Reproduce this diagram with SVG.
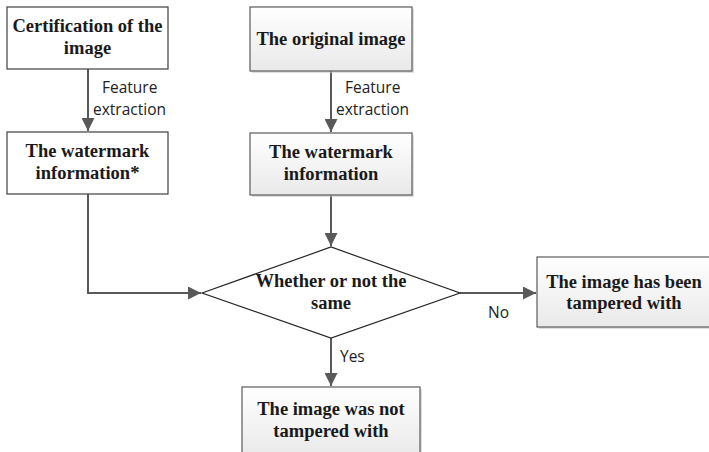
<svg xmlns="http://www.w3.org/2000/svg" width="709" height="452" viewBox="0 0 709 452">
<style>
.box{fill:#ffffff;stroke:#3f3f3f;stroke-width:1.2}
.gbox{fill:url(#g);stroke:#5a5a5a;stroke-width:1.2}
.shadow{fill:#c8c8c8;opacity:0.6}
.t{font-family:"Liberation Serif",serif;font-weight:bold;font-size:18.5px;fill:#1a1a1a;text-anchor:middle}
.lbl{font-family:"Open Sans","Liberation Sans",sans-serif;font-size:15.5px;fill:#222}
.con{fill:none;stroke:#595959;stroke-width:2}
.dia{fill:#ffffff;stroke:#262626;stroke-width:1.2}
</style>
<defs>
<linearGradient id="g" x1="0" y1="0" x2="0" y2="1">
<stop offset="0" stop-color="#ffffff"/>
<stop offset="1" stop-color="#e9e9e9"/>
</linearGradient>
<marker id="ah" viewBox="0 0 10 10" refX="10" refY="5" markerWidth="6.5" markerHeight="6.5" markerUnits="strokeWidth" orient="auto">
<path d="M0,0 L10,5 L0,10 z" fill="#595959"/>
</marker>
</defs>
<rect width="709" height="452" fill="#ffffff"/>
<g id="connectors">
<path class="con" d="M88,69 V131" marker-end="url(#ah)"/>
<path class="con" d="M331,71 V132" marker-end="url(#ah)"/>
<path class="con" d="M331,195 V246" marker-end="url(#ah)"/>
<path class="con" d="M88,194 V293 H201" marker-end="url(#ah)"/>
<path class="con" d="M460,293 H536" marker-end="url(#ah)"/>
<path class="con" d="M331,338 V386" marker-end="url(#ah)"/>
<text class="lbl" x="102" y="93">Feature</text>
<text class="lbl" x="93" y="115">extraction</text>
<text class="lbl" x="345" y="93">Feature</text>
<text class="lbl" x="336" y="115">extraction</text>
<text class="lbl" x="488" y="318">No</text>
<text class="lbl" x="340" y="362">Yes</text>
</g>
<g id="n-cert">
<rect class="box" x="7" y="7" width="161" height="62"/>
<text class="t" x="87.5" y="32">Certification of the</text>
<text class="t" x="87.5" y="54">image</text>
</g>
<g id="n-wm-left">
<rect class="box" x="7" y="132" width="161" height="62"/>
<text class="t" x="87.5" y="157">The watermark</text>
<text class="t" x="87.5" y="179">information*</text>
</g>
<g id="n-original">
<rect class="shadow" x="252" y="9" width="162" height="64"/>
<rect class="gbox" x="250" y="7" width="162" height="64"/>
<text class="t" x="331" y="45">The original image</text>
</g>
<g id="n-wm-right">
<rect class="shadow" x="252" y="135" width="162" height="62"/>
<rect class="gbox" x="250" y="133" width="162" height="62"/>
<text class="t" x="331" y="158">The watermark</text>
<text class="t" x="331" y="180">information</text>
</g>
<g id="n-decision">
<polygon class="dia" points="202,293 331,247 460,293 331,338"/>
<text class="t" x="331" y="287">Whether or not the</text>
<text class="t" x="331" y="309">same</text>
</g>
<g id="n-tampered">
<rect class="shadow" x="539" y="259" width="172" height="70"/>
<rect class="gbox" x="537" y="257" width="174" height="70"/>
<text class="t" x="624" y="288">The image has been</text>
<text class="t" x="624" y="309">tampered with</text>
</g>
<g id="n-not-tampered">
<rect class="shadow" x="244" y="389" width="178" height="70"/>
<rect class="gbox" x="242" y="387" width="178" height="70"/>
<text class="t" x="331" y="415">The image was not</text>
<text class="t" x="331" y="437">tampered with</text>
</g>
</svg>
